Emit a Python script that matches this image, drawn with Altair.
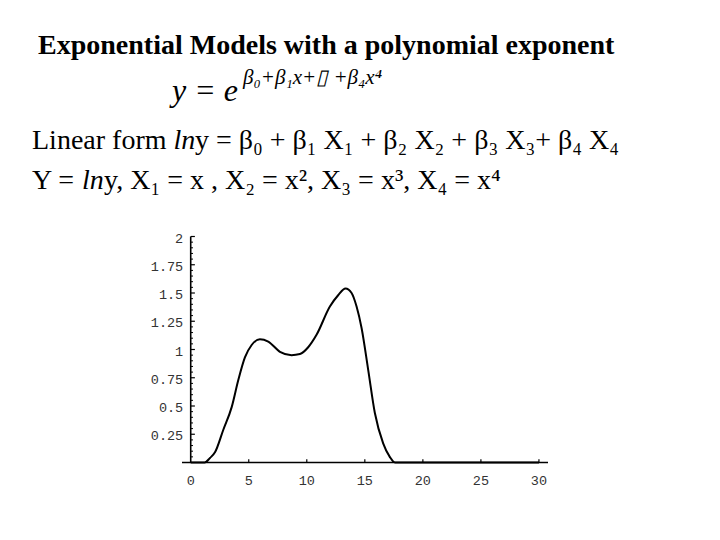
import altair as alt
import pandas as pd

# ---------------- data ----------------
curve_x = [0, 1.2, 1.66, 2.09, 2.81, 3.53, 4.10, 4.67, 5.25, 5.96, 6.68, 7.69, 8.69,
           9.41, 10.12, 10.84, 11.99, 12.70, 13.34, 13.86, 14.29, 14.72, 15.29,
           15.86, 16.58, 17.15, 17.6, 30]
curve_y = [0, 0, 0.04, 0.09, 0.29, 0.49, 0.73, 0.93, 1.04, 1.09, 1.07, 0.98, 0.95,
           0.96, 1.02, 1.13, 1.38, 1.48, 1.54, 1.50, 1.38, 1.19, 0.82,
           0.44, 0.17, 0.05, 0, 0]

x_label_values = [0, 5, 10, 15, 20, 25, 30]
x_label_text = ["0", "5", "10", "15", "20", "25", "30"]
x_tick_values = [5, 10, 15, 20, 25, 30]
y_label_values = [0.25, 0.5, 0.75, 1, 1.25, 1.5, 1.75, 2]
y_label_text = ["0.25", "0.5", "0.75", "1", "1.25", "1.5", "1.75", "2"]
y_minor_values = [0.05, 0.1, 0.15, 0.2, 0.3, 0.35, 0.4, 0.45, 0.55, 0.6, 0.65, 0.7,
                  0.8, 0.85, 0.9, 0.95, 1.05, 1.1, 1.15, 1.2, 1.3, 1.35, 1.4, 1.45,
                  1.55, 1.6, 1.65, 1.7, 1.8, 1.85, 1.9, 1.95]

title_text = "Exponential Models with a polynomial exponent"
eq_main = "y = e"
eq_sup = "β₀+β₁x+▯  +β₄x⁴"
line1_a = "Linear form "
line1_ln = "ln"
line1_b = "y = β₀ + β₁ X₁ + β₂ X₂ + β₃ X₃+ β₄ X₄"
line2_a = "Y = "
line2_ln = "ln"
line2_b = "y, X₁ = x , X₂ = x², X₃ = x³, X₄ = x⁴"

# ---------------- layout ----------------
X_MIN, X_MAX = -0.75, 30.78
W, H = 366, 226
OX, OY = 182, 236.5   # page position of plot origin
SERIF = "Liberation Serif"
MONO = "Liberation Mono"
LABEL_SIZE = 13.5
LABEL_COLOR = "#333"

xs = alt.Scale(domain=[X_MIN, X_MAX], nice=False, zero=False)
ys = alt.Scale(domain=[0, 2], nice=False, zero=False)

one = pd.DataFrame({"a": [0]})
curve_df = pd.DataFrame({"x": curve_x, "y": curve_y})
xl_df = pd.DataFrame({"v": x_label_values, "t": x_label_text})
xt_df = pd.DataFrame({"v": x_tick_values})
yl_df = pd.DataFrame({"v": y_label_values, "t": y_label_text})
ym_df = pd.DataFrame({"v": y_minor_values})

curve = alt.Chart(curve_df).mark_line(
    color="black", strokeWidth=2, interpolate="monotone").encode(
    x=alt.X("x:Q", scale=xs, axis=None), y=alt.Y("y:Q", scale=ys, axis=None))

x_axis_line = alt.Chart(one).mark_rule(color="black", strokeWidth=1.6).encode(
    x=alt.X(datum=X_MIN, axis=None), x2=alt.X2(datum=X_MAX), y=alt.Y(datum=0, axis=None))
y_axis_line = alt.Chart(one).mark_rule(color="black", strokeWidth=1.6).encode(
    x=alt.X(datum=0, axis=None), y=alt.Y(datum=0, axis=None), y2=alt.Y2(datum=2))

x_ticks = alt.Chart(xt_df).mark_rule(color="black", strokeWidth=1.2).encode(
    x=alt.X("v:Q", axis=None), y=alt.Y(datum=0, axis=None), y2=alt.Y2(datum=0.028))
y_major = alt.Chart(yl_df).mark_rule(color="black", strokeWidth=1.2).encode(
    y=alt.Y("v:Q", axis=None), x=alt.X(datum=0, axis=None), x2=alt.X2(datum=0.36))
y_minor = alt.Chart(ym_df).mark_rule(color="black", strokeWidth=1).encode(
    y=alt.Y("v:Q", axis=None), x=alt.X(datum=0, axis=None), x2=alt.X2(datum=0.2))

x_labels = alt.Chart(xl_df).mark_text(
    font=MONO, fontSize=LABEL_SIZE, color=LABEL_COLOR, align="center",
    baseline="middle", dy=18.5).encode(
    x=alt.X("v:Q", axis=None), y=alt.Y(datum=0, axis=None), text="t:N")
y_labels = alt.Chart(yl_df).mark_text(
    font=MONO, fontSize=LABEL_SIZE, color=LABEL_COLOR, align="right",
    baseline="middle", dx=-7.5, dy=2).encode(
    y=alt.Y("v:Q", axis=None), x=alt.X(datum=0, axis=None), text="t:N")


def txt(s, X, Y, size, weight="normal", style="normal"):
    return alt.Chart(pd.DataFrame({"t": [s]})).mark_text(
        align="left", baseline="alphabetic", font=SERIF, fontSize=size,
        fontWeight=weight, fontStyle=style, color="black").encode(
        x=alt.value(X - OX), y=alt.value(Y - OY), text="t:N")


texts = [
    txt(title_text, 38, 54, 28, weight="bold"),
    txt(eq_main, 172, 101, 32, style="italic"),
    txt(eq_sup, 243, 84, 21, style="italic"),
    txt(line1_a, 32, 149, 28),
    txt(line1_ln, 173.5, 149, 28, style="italic"),
    txt(line1_b, 195, 149, 28),
    txt(line2_a, 32, 189, 28),
    txt(line2_ln, 82, 189, 28, style="italic"),
    txt(line2_b, 104, 189, 28),
]

chart = alt.layer(
    curve, x_axis_line, y_axis_line, x_ticks, y_major, y_minor, x_labels, y_labels, *texts
).properties(
    width=W, height=H,
    autosize=alt.AutoSizeParams(type="none"),
    padding={"left": OX - 8, "top": OY - 8, "right": 704 - (OX - 8) - W,
             "bottom": 524 - (OY - 8) - H},
    background="white",
).configure_view(strokeWidth=0)

chart.save("out.html", embed_options={"renderer": "svg", "actions": False})
